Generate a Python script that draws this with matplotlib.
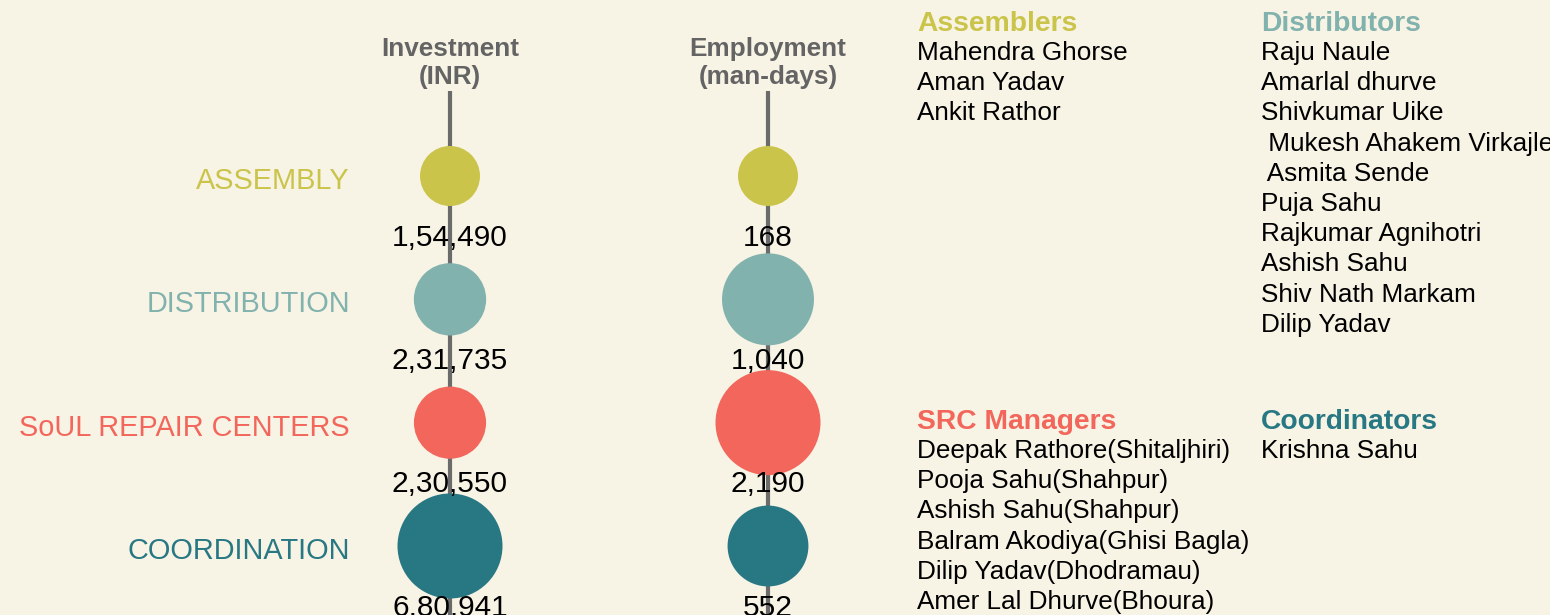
import numpy as np
import matplotlib
matplotlib.use("Agg")
import matplotlib.pyplot as plt

# ---------------- data ----------------
categories = ["ASSEMBLY", "DISTRIBUTION", "SoUL REPAIR CENTERS", "COORDINATION"]
metrics = ["Investment\n(INR)", "Employment\n(man-days)"]
investment = [154490, 231735, 230550, 680941]
employment = [168, 1040, 2190, 552]
investment_labels = ["1,54,490", "2,31,735", "2,30,550", "6,80,941"]
employment_labels = ["168", "1,040", "2,190", "552"]
colors = ["#cbc44a", "#82b2ae", "#f2665b", "#287884"]

group_titles = ["Assemblers", "Distributors", "SRC Managers", "Coordinators"]
assemblers = ["Mahendra Ghorse", "Aman Yadav", "Ankit Rathor"]
distributors = ["Raju Naule", "Amarlal dhurve", "Shivkumar Uike",
                " Mukesh Ahakem Virkajle", " Asmita Sende", "Puja Sahu",
                "Rajkumar Agnihotri", "Ashish Sahu", "Shiv Nath Markam",
                "Dilip Yadav"]
src_managers = ["Deepak Rathore(Shitaljhiri)", "Pooja Sahu(Shahpur)",
                "Ashish Sahu(Shahpur)", "Balram Akodiya(Ghisi Bagla)",
                "Dilip Yadav(Dhodramau)", "Amer Lal Dhurve(Bhoura)"]
coordinators = ["Krishna Sahu"]

# ---------------- style ----------------
W, H, DPI = 1550, 615, 100
BG = "#f7f3e5"
LINE = "#6b6b6b"
HEAD = "#646464"
FONT = "Liberation Sans"
plt.rcParams["font.family"] = [FONT, "DejaVu Sans"]

fig = plt.figure(figsize=(W / DPI, H / DPI), dpi=DPI, facecolor=BG)
ax = fig.add_axes([0, 0, 1, 1])
ax.set_facecolor(BG)
ax.axis("off")

# map column index / row index to the canvas
col_px = (450, 768)
row_px = (176, 546)
ux = col_px[1] - col_px[0]
uy = (row_px[1] - row_px[0]) / 3
ax.set_xlim(-col_px[0] / ux, (W - col_px[0]) / ux)
ax.set_ylim((H - row_px[0]) / uy, -row_px[0] / uy)

def diam(vals, dmin=60, dmax=105):
    lv = np.log(np.asarray(vals, float))
    return dmin + (dmax - dmin) * (lv - lv.min()) / (lv.max() - lv.min())

rows = np.arange(len(categories))
top = -(row_px[0] - 91) / uy
for ci, (vals, labs) in enumerate([(investment, investment_labels),
                                   (employment, employment_labels)]):
    ax.plot([ci, ci], [top, rows[-1] + 1.5], color=LINE, lw=3, zorder=1,
            solid_capstyle="butt")
    d = diam(vals)
    ax.scatter(np.full(len(rows), ci), rows, s=(d * 72 / DPI) ** 2,
               c=colors, zorder=2, linewidths=0)
    for r, lab in zip(rows, labs):
        ax.text(ci, r + 0.5, lab, ha="center", va="center",
                fontsize=21.5, color="black", zorder=3)
    ax.text(ci, top - 0.02, metrics[ci], ha="center", va="bottom",
            fontsize=18.8, fontweight="bold", color=HEAD, linespacing=1.2)

for r, (cat, col) in enumerate(zip(categories, colors)):
    ax.text(-100 / ux, r + 0.04, cat, ha="right", va="center", fontsize=20.8,
            color=col)

# ---- name lists (figure-pixel placement) ----
def fx(px):
    return px / W

def fy(py):
    return 1 - py / H

groups = [(917, 24, assemblers, colors[0], group_titles[0]),
          (1261, 24, distributors, colors[1], group_titles[1]),
          (917, 422, src_managers, colors[2], group_titles[2]),
          (1261, 422, coordinators, colors[3], group_titles[3])]
for x0, y0, names, col, title in groups:
    fig.text(fx(x0), fy(y0), title, ha="left", va="center", fontsize=20.3,
             fontweight="bold", color=col)
    for i, n in enumerate(names):
        fig.text(fx(x0), fy(y0 + 29 + 30.2 * i), n, ha="left", va="center",
                 fontsize=18.8, color="black")

fig.savefig("out.png", dpi=DPI, facecolor=BG)
